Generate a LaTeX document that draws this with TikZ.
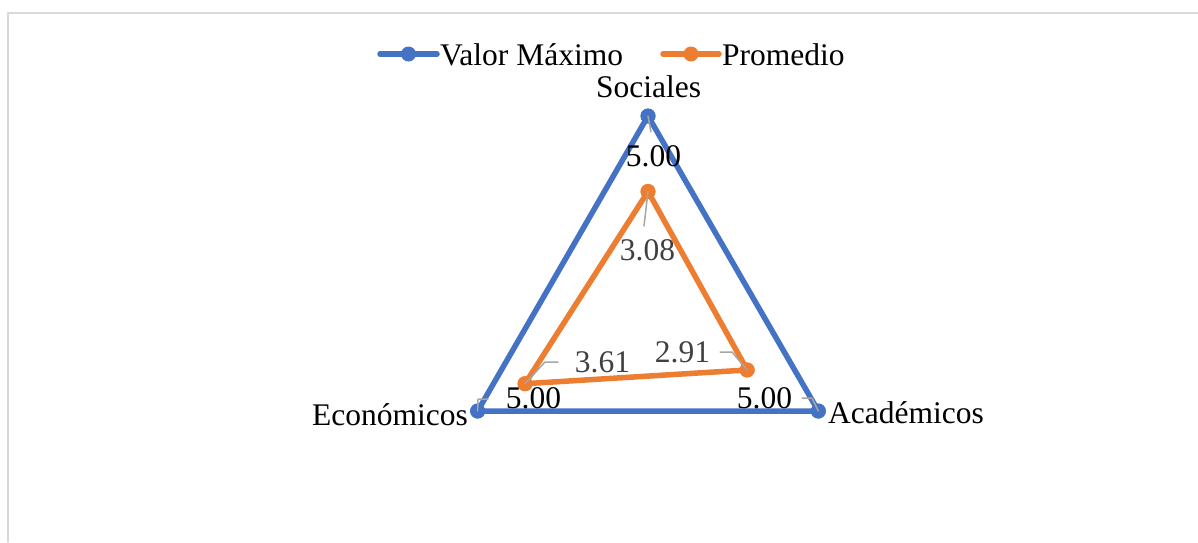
\documentclass[tikz,border=0pt]{standalone}
\usepackage{fontspec}
\setmainfont{Liberation Serif}
\usetikzlibrary{calc}
\definecolor{maxblue}{HTML}{4472C4}
\definecolor{avgorange}{HTML}{ED7D31}
\definecolor{leadgray}{HTML}{A6A6A6}
\definecolor{valgray}{HTML}{404040}
\definecolor{framegray}{HTML}{D9D9D9}
\tikzset{every scope/.style={line join=round,line cap=round},
  dot/.style={fill,circle,inner sep=0pt,minimum size=15pt},
  series/.style={line width=5.5pt},
  lbl/.style={font=\fontsize{31.5}{34}\selectfont,inner sep=0pt},
  lead/.style={leadgray,line width=1.5pt}}

\begin{document}
\begin{tikzpicture}[x=1pt,y=-1pt]
              \useasboundingbox (0,0) rectangle (1198,542);
              \draw[framegray,line width=1.5pt] (8,542) -- (8,13) -- (1198,13);
              % radar axes: centre and radius for 5.00
              \begin{scope}[shift={(648,312.7)}]
                \coordinate (s5) at (-90:196.7);
                \coordinate (a5) at (30:196.7);
                \coordinate (e5) at (150:196.7);
                \coordinate (s3) at (-90:121.2);
                \coordinate (a3) at (30:114.5);
                \coordinate (e3) at (150:142.0);
              \end{scope}
              \node[dot,maxblue]    (smax) at (s5) {};
              \node[dot,maxblue]    (amax) at (a5) {};
              \node[dot,maxblue]    (emax) at (e5) {};
              \draw[series,maxblue] (smax.center) -- (amax.center) -- (emax.center) -- cycle;
              \node[dot,maxblue]    at (smax) {};
              \node[dot,maxblue]    at (amax) {};
              \node[dot,maxblue]    at (emax) {};
              \node[dot,avgorange]  (savg) at (s3) {};
              \node[dot,avgorange]  (aavg) at (a3) {};
              \node[dot,avgorange]  (eavg) at (e3) {};
              \draw[series,avgorange] (savg.center) -- (aavg.center) -- (eavg.center) -- cycle;
              \node[dot,avgorange]  at (savg) {};
              \node[dot,avgorange]  at (aavg) {};
              \node[dot,avgorange]  at (eavg) {};
              % axis names
              \node[lbl,anchor=base]      (soc) at (648.5,97) {Sociales};
              \node[lbl,anchor=base east] (eco) at (468,425)  {Económicos};
              \node[lbl,anchor=base west] (aca) at (828,423)  {Académicos};
              % data labels
              \node[lbl,anchor=base]            (vsmax) at (653.5,166) {5.00};
              \node[lbl,anchor=base]            (vemax) at (533.5,408) {5.00};
              \node[lbl,anchor=base]            (vamax) at (764.5,408) {5.00};
              \node[lbl,anchor=base,valgray]    (vsavg) at (647.5,260) {3.08};
              \node[lbl,anchor=base,valgray]    (veavg) at (602.5,372) {3.61};
              \node[lbl,anchor=base,valgray]    (vaavg) at (682.5,362) {2.91};
              \draw[lead] (smax.center) -- (651,132);
              \draw[lead] (savg.center) -- (644,226);
              \draw[lead] (emax.center) -- (478,399) -- (488,399);
              \draw[lead] (amax.center) -- (812,398) -- (802,398);
              \draw[lead] (eavg.center) -- (545,362) -- (558,362);
              \draw[lead] (aavg.center) -- (732,352) -- (720,352);
              % legend
              \draw[series,maxblue]   (380,54) -- (437,54) node[dot,midway] (kmaxdot) {};
              \node[lbl,anchor=base west] (kmax) at (440,65) {Valor Máximo};
              \draw[series,avgorange] (663,54) -- (719,54) node[dot,midway] (kavgdot) {};
              \node[lbl,anchor=base west] (kavg) at (722,65) {Promedio};
\end{tikzpicture}
\end{document}
